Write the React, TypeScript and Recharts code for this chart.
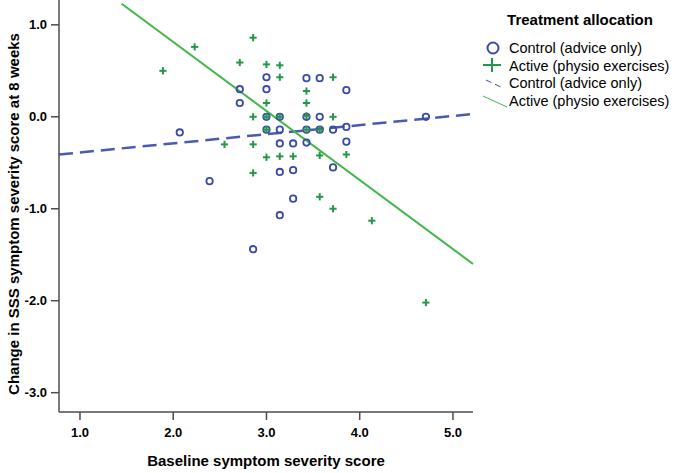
import React from "react";
import {
  ReferenceLine,
  Scatter,
  ScatterChart,
  XAxis,
  YAxis,
} from "recharts";

// baseline score (x) and change at 8 weeks (y)
const controlX = [
  2.07, 2.39, 2.714, 2.714, 2.857, 3.0, 3.0, 3.0, 3.0, 3.143, 3.143, 3.143,
  3.143, 3.143, 3.286, 3.286, 3.286, 3.429, 3.429, 3.429, 3.429, 3.571, 3.571,
  3.571, 3.714, 3.714, 3.857, 3.857, 3.857, 4.71,
];
const controlY = [
  -0.17, -0.7, 0.3, 0.15, -1.44, 0.43, 0.3, 0.0, -0.14, 0.0, -0.14, -0.29,
  -0.6, -1.07, -0.29, -0.58, -0.89, 0.42, 0.0, -0.14, -0.28, 0.42, 0.0, -0.14,
  -0.14, -0.55, 0.29, -0.11, -0.27, 0.0,
];
const activeX = [
  1.89, 2.23, 2.55, 2.714, 2.857, 2.857, 2.857, 2.857, 3.0, 3.0, 3.0, 3.0, 3.0,
  3.143, 3.143, 3.143, 3.143, 3.286, 3.429, 3.429, 3.429, 3.429, 3.571, 3.571,
  3.571, 3.714, 3.714, 3.714, 3.857, 4.13, 4.71,
];
const activeY = [
  0.5, 0.76, -0.3, 0.59, 0.86, 0.0, -0.3, -0.61, 0.57, 0.15, 0.0, -0.14, -0.44,
  0.56, 0.43, 0.0, -0.43, -0.43, 0.28, 0.15, 0.01, -0.14, -0.14, -0.42, -0.87,
  0.43, 0.0, -1.0, -0.41, -1.13, -2.02,
];

// fitted lines (end points)
const controlFitX = [0.775, 5.215];
const controlFitY = [-0.41, 0.03];
const activeFitX = [1.447, 5.215];
const activeFitY = [1.23, -1.6];

const xTicks = [1, 2, 3, 4, 5];
const yTicks = [-3, -2, -1, 0, 1];
const seriesNames = ["Control (advice only)", "Active (physio exercises)"];

const BLUE = "#3a4aa6";
const GREEN = "#23984a";
const GREEN_LINE = "#42b64b";
const FONT = "'Liberation Sans', Arial, sans-serif";

const controlData = controlX.map((x, i) => ({ x, y: controlY[i] }));
const activeData = activeX.map((x, i) => ({ x, y: activeY[i] }));

const CircleShape = (p: any) => (
  <circle cx={p.cx} cy={p.cy} r={3.2} fill="none" stroke={BLUE} strokeWidth={1.8} />
);

const PlusShape = (p: any) => (
  <g stroke={GREEN} strokeWidth={2}>
    <line x1={p.cx - 3.6} x2={p.cx + 3.6} y1={p.cy} y2={p.cy} />
    <line x1={p.cx} x2={p.cx} y1={p.cy - 3.6} y2={p.cy + 3.6} />
  </g>
);

const LegendBox = () => (
  <svg width={203} height={115} style={{ position: "absolute", left: 478, top: 0 }}>
    <text x={102} y={25} textAnchor="middle" fontFamily={FONT} fontWeight="bold" fontSize={15} fill="#000">
      Treatment allocation
    </text>
    <circle cx={15} cy={48} r={5.5} fill="none" stroke={BLUE} strokeWidth={2} />
    <line x1={5} x2={23} y1={65} y2={65} stroke={GREEN} strokeWidth={2} />
    <line x1={14} x2={14} y1={58} y2={72} stroke={GREEN} strokeWidth={2} />
    <line x1={8} x2={25} y1={80} y2={88} stroke={BLUE} strokeWidth={1} strokeDasharray="6 4" />
    <line x1={5} x2={29} y1={96} y2={107} stroke={GREEN_LINE} strokeWidth={1} />
    {[seriesNames[0], seriesNames[1], seriesNames[0], seriesNames[1]].map((n, i) => (
      <text key={i} x={31} y={53 + i * 17.5} fontFamily={FONT} fontSize={14.5} fill="#000">
        {n}
      </text>
    ))}
  </svg>
);

export default function App() {
  return (
    <div style={{ position: "absolute", left: 0, top: 0, width: 681, height: 473, background: "#fff" }}>
      <ScatterChart width={681} height={473} margin={{ top: 0, right: 208, bottom: 0, left: 0 }}>
        <XAxis
          type="number"
          dataKey="x"
          domain={[0.775, 5.215]}
          ticks={xTicks}
          allowDataOverflow
          height={61}
          tickFormatter={(v: number) => v.toFixed(1)}
          tickSize={8}
          tickMargin={8}
          stroke="#4d4d4d"
          strokeWidth={1.5}
          tick={{ fill: "#000", fontFamily: FONT, fontWeight: "bold", fontSize: 13 }}
          label={{
            content: () => (
              <text x={266} y={466} textAnchor="middle" fontFamily={FONT} fontWeight="bold" fontSize={15} fill="#000">
                Baseline symptom severity score
              </text>
            ),
          }}
        />
        <YAxis
          type="number"
          dataKey="y"
          domain={[-3.21, 1.27]}
          ticks={yTicks}
          allowDataOverflow
          width={59}
          tickFormatter={(v: number) => v.toFixed(1)}
          tickSize={8}
          tickMargin={4}
          stroke="#4d4d4d"
          strokeWidth={1.5}
          tick={{ fill: "#000", fontFamily: FONT, fontWeight: "bold", fontSize: 13 }}
          label={{
            content: () => (
              <text
                transform="translate(13,214) rotate(-90)"
                textAnchor="middle"
                dominantBaseline="central"
                fontFamily={FONT}
                fontWeight="bold"
                fontSize={15}
                fill="#000"
              >
                Change in SSS symptom severity score at 8 weeks
              </text>
            ),
          }}
        />
        <ReferenceLine
          segment={[
            { x: controlFitX[0], y: controlFitY[0] },
            { x: controlFitX[1], y: controlFitY[1] },
          ]}
          stroke="#4a5aac"
          strokeWidth={2.5}
          strokeDasharray="14 7"
          ifOverflow="visible"
        />
        <ReferenceLine
          segment={[
            { x: activeFitX[0], y: activeFitY[0] },
            { x: activeFitX[1], y: activeFitY[1] },
          ]}
          stroke={GREEN_LINE}
          strokeWidth={2}
          ifOverflow="visible"
        />
        <Scatter name={seriesNames[0]} data={controlData} shape={CircleShape} isAnimationActive={false} />
        <Scatter name={seriesNames[1]} data={activeData} shape={PlusShape} isAnimationActive={false} />
      </ScatterChart>
      <LegendBox />
    </div>
  );
}
